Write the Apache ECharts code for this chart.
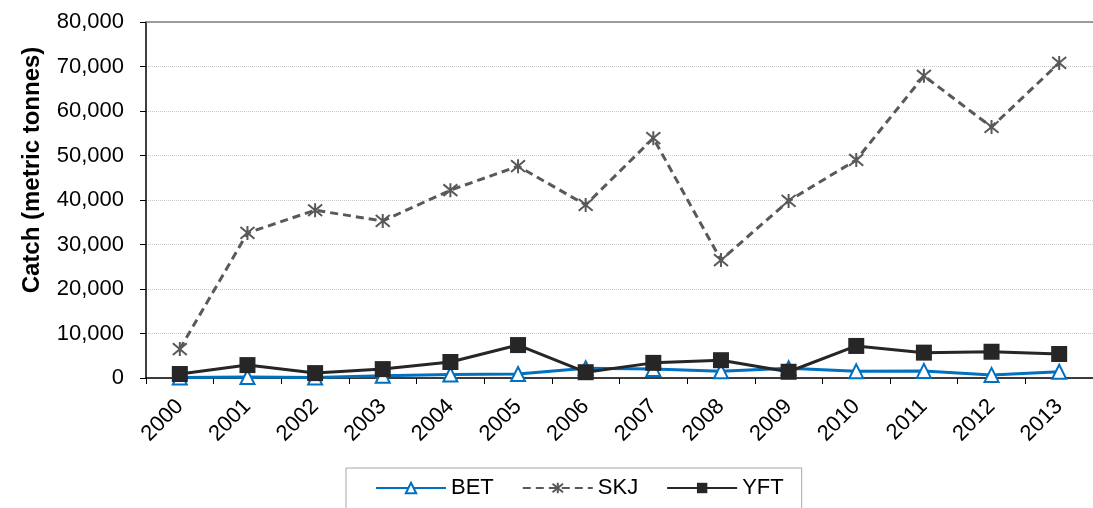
<!DOCTYPE html>
<html>
<head>
<meta charset="utf-8">
<script src="https://cdn.jsdelivr.net/npm/echarts@6/dist/echarts.min.js"></script>
<style>
  html, body { margin: 0; padding: 0; background: #fff; }
  #chart { width: 1093px; height: 508px; }
</style>
</head>
<body>
<div id="chart"></div>
<script>
// years and catches (metric tonnes)
var years = ['2000', '2001', '2002', '2003', '2004', '2005', '2006', '2007', '2008', '2009', '2010', '2011', '2012', '2013'];
var bet = [100, 200, 100, 500, 800, 900, 2200, 2000, 1500, 2200, 1500, 1600, 700, 1400];
var skj = [6500, 32600, 37700, 35300, 42200, 47600, 38900, 53900, 26500, 39800, 49000, 67900, 56400, 70800];
var yft = [900, 2900, 1100, 2000, 3600, 7400, 1300, 3400, 4000, 1400, 7200, 5700, 5900, 5400];

var font = 'Liberation Sans, Arial, sans-serif';
var asterisk = 'path://M0,0L10,10M10,0L0,10M5,-1L5,11M5,5Z';

var myChart = echarts.init(document.getElementById('chart'));

var option = {
    animation: false,
    textStyle: {fontFamily: font},
    grid: {left: 146, top: 22, width: 956, height: 356, containLabel: false},
    legend: {
        left: 346,
        top: 468,
        padding: [9, 18, 40, 29],
        itemGap: 28,
        itemWidth: 70,
        itemHeight: 13,
        borderColor: '#a6a6a6',
        borderWidth: 1,
        textStyle: {fontSize: 22, color: '#000', fontFamily: font},
        data: ['BET', 'SKJ', 'YFT']
    },
    xAxis: [{
        type: 'category',
        data: years,
        boundaryGap: true,
        axisLine: {lineStyle: {color: '#000', width: 1.5}},
        axisTick: {show: true, alignWithLabel: false, length: 6, lineStyle: {color: '#000'}},
        axisLabel: {rotate: 45, fontSize: 22, color: '#000', margin: 25, interval: 0}
    }, {
        type: 'category',
        data: years,
        position: 'top',
        axisLine: {lineStyle: {color: '#808080', width: 1.5}},
        axisTick: {show: false},
        axisLabel: {show: false}
    }],
    yAxis: {
        type: 'value',
        min: 0,
        max: 80000,
        interval: 10000,
        name: 'Catch (metric tonnes)',
        nameLocation: 'middle',
        nameGap: 102,
        nameTextStyle: {fontSize: 24, fontWeight: 'bold', color: '#000', padding: [0, 0, 0, 60]},
        axisLine: {show: true, lineStyle: {color: '#000', width: 1.5}},
        axisTick: {show: true, length: 6, lineStyle: {color: '#000'}},
        axisLabel: {
            fontSize: 22, color: '#000', margin: 22,
            formatter: function (v) { return v.toLocaleString('en-US'); }
        },
        splitLine: {show: true, lineStyle: {color: '#c8c8c8', type: 'dotted', width: 1}}
    },
    series: [{
        name: 'BET',
        type: 'line',
        data: bet,
        symbol: 'triangle',
        symbolSize: 14,
        lineStyle: {color: '#0070c0', width: 3},
        itemStyle: {color: '#fff', borderColor: '#0070c0', borderWidth: 2}
    }, {
        name: 'SKJ',
        type: 'line',
        data: skj,
        symbol: asterisk,
        symbolSize: 14,
        lineStyle: {color: '#595959', width: 3, type: [8, 5]},
        itemStyle: {color: '#595959', borderColor: '#595959', borderWidth: 2}
    }, {
        name: 'YFT',
        type: 'line',
        data: yft,
        symbol: 'rect',
        symbolSize: 16,
        lineStyle: {color: '#262626', width: 3},
        itemStyle: {color: '#262626', borderColor: '#262626', borderWidth: 0}
    }]
};

myChart.setOption(option);
</script>
</body>
</html>
